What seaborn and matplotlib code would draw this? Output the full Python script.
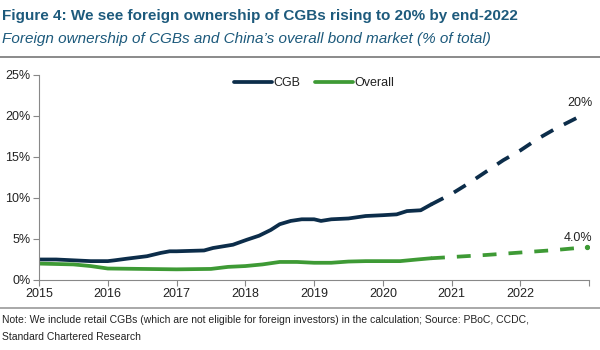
import pandas as pd
import matplotlib.pyplot as plt
import seaborn as sns

# Historical data (decimal year, % of total)
cgb_years = [2015.0, 2015.25, 2015.5, 2015.75, 2016.0, 2016.1, 2016.28, 2016.57, 2016.77,
             2016.9, 2017.0, 2017.4, 2017.53, 2017.82, 2018.02, 2018.2, 2018.37, 2018.5,
             2018.66, 2018.82, 2019.0, 2019.1, 2019.25, 2019.5, 2019.75, 2020.0, 2020.2,
             2020.35, 2020.55, 2020.7]
cgb_values = [2.5, 2.5, 2.4, 2.3, 2.3, 2.4, 2.6, 2.9, 3.3,
              3.5, 3.5, 3.6, 3.9, 4.3, 4.9, 5.4, 6.1, 6.8,
              7.2, 7.4, 7.4, 7.2, 7.4, 7.5, 7.8, 7.9, 8.0,
              8.4, 8.5, 9.2]

overall_years = [2015.0, 2015.5, 2015.75, 2016.0, 2016.5, 2017.0, 2017.5, 2017.75, 2018.0,
                 2018.25, 2018.5, 2018.75, 2019.0, 2019.25, 2019.5, 2019.75, 2020.0, 2020.25,
                 2020.5, 2020.7]
overall_values = [2.0, 1.9, 1.7, 1.4, 1.35, 1.3, 1.35, 1.6, 1.7,
                  1.9, 2.2, 2.2, 2.1, 2.1, 2.25, 2.3, 2.3, 2.3,
                  2.5, 2.65]

# Projections
cgb_proj_years = [2020.7, 2021.0, 2021.25, 2021.5, 2021.75, 2022.0, 2022.25, 2022.5, 2022.83]
cgb_proj_values = [9.2, 10.5, 11.8, 13.2, 14.6, 15.8, 17.2, 18.4, 19.8]
overall_proj_years = [2020.7, 2021.5, 2022.0, 2022.5, 2022.83]
overall_proj_values = [2.65, 3.05, 3.35, 3.65, 3.9]
overall_end_year = 2022.97
overall_end_value = 4.0

year_ticks = [2015, 2016, 2017, 2018, 2019, 2020, 2021, 2022, 2023]
year_labels = ['2015', '2016', '2017', '2018', '2019', '2020', '2021', '2022', '']
pct_ticks = [0, 5, 10, 15, 20, 25]

navy = '#0c2d4a'
green = '#3e9a35'
title_blue = '#1d5a7c'

sns.set_theme(style='white')
plt.rcParams['font.family'] = ['Liberation Sans', 'DejaVu Sans']

fig = plt.figure(figsize=(6, 3.5), dpi=100)
ax = fig.add_axes([0.065, 0.2, 0.917, 0.586])

hist_cgb = pd.DataFrame({'year': cgb_years, 'value': cgb_values})
hist_all = pd.DataFrame({'year': overall_years, 'value': overall_values})
proj_cgb = pd.DataFrame({'year': cgb_proj_years, 'value': cgb_proj_values})
proj_all = pd.DataFrame({'year': overall_proj_years, 'value': overall_proj_values})

dash = (0, (3.7, 3.2))
sns.lineplot(data=hist_cgb, x='year', y='value', ax=ax, color=navy, lw=2.7, label='CGB')
sns.lineplot(data=hist_all, x='year', y='value', ax=ax, color=green, lw=2.7, label='Overall')
sns.lineplot(data=proj_cgb, x='year', y='value', ax=ax, color=navy, lw=2.7, linestyle=dash)
sns.lineplot(data=proj_all, x='year', y='value', ax=ax, color=green, lw=2.7, linestyle=dash)
ax.plot(overall_end_year, overall_end_value, 'o', color=green, ms=2.8)

ax.text(2023.05, 20.8, '20%', fontsize=9, color='#222222', ha='right', va='bottom')
ax.text(2023.05, 4.4, '4.0%', fontsize=9, color='#222222', ha='right', va='bottom')

ax.set_xlim(2015, 2023)
ax.set_ylim(0, 25)
ax.set_xticks(year_ticks)
ax.set_xticklabels(year_labels)
ax.set_yticks(pct_ticks)
ax.set_yticklabels([f'{v}%' for v in pct_ticks])
ax.set_xlabel('')
ax.set_ylabel('')
ax.tick_params(axis='both', labelsize=9, colors='#222222', length=4, width=0.8,
               direction='out', bottom=True, left=True, pad=2)
ax.tick_params(axis='both', color='#888888')
for side in ['top', 'right']:
    ax.spines[side].set_visible(False)
for side in ['left', 'bottom']:
    ax.spines[side].set_color('#888888')
    ax.spines[side].set_linewidth(0.8)

leg = ax.legend(loc='upper center', bbox_to_anchor=(0.5, 1.045), ncol=2, frameon=False,
                fontsize=9, handlelength=3.0, handletextpad=0.1, columnspacing=1.2)
for t in leg.get_texts():
    t.set_color('#222222')

fig.text(0.004, 0.955, 'Figure 4: We see foreign ownership of CGBs rising to 20% by end-2022',
         fontsize=11, fontweight='bold', color=title_blue, va='center')
fig.text(0.004, 0.89, 'Foreign ownership of CGBs and China\u2019s overall bond market (% of total)',
         fontsize=11, style='italic', color=title_blue, va='center')
fig.add_artist(plt.Line2D([0, 1], [0.837, 0.837], color='#777777', lw=1.2))
fig.add_artist(plt.Line2D([0, 1], [0.12, 0.12], color='#999999', lw=1.2))
fig.text(0.004, 0.085, 'Note: We include retail CGBs (which are not eligible for foreign investors) '
         'in the calculation; Source: PBoC, CCDC,', fontsize=7.5, color='#222222', va='center')
fig.text(0.004, 0.038, 'Standard Chartered Research', fontsize=7.5, color='#222222', va='center')

fig.savefig('out.png', dpi=100, facecolor='white')
